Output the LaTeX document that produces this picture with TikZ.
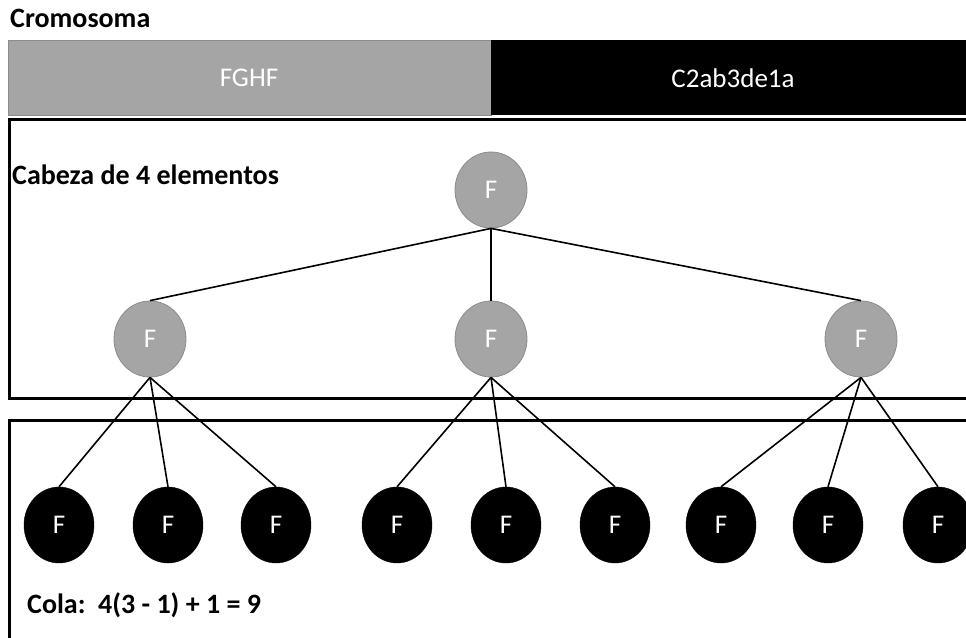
\documentclass[tikz,border=0pt]{standalone}
\usepackage{fontspec}
\setmainfont{Carlito}
\usetikzlibrary{shapes.geometric}
\definecolor{genegray}{HTML}{A5A5A5}
\definecolor{geneedge}{HTML}{8C8C8C}
\tikzset{
  headnode/.style={ellipse, fill=genegray, draw=geneedge, line width=0.8pt,
    minimum width=72pt, minimum height=76pt, inner sep=0pt,
    text=white, font=\fontsize{27}{30}\selectfont},
  tailnode/.style={ellipse, fill=black, draw=black,
    minimum width=70pt, minimum height=76pt, inner sep=0pt,
    text=white, font=\fontsize{27}{30}\selectfont},
  branch/.style={line width=1.6pt, black},
  panel/.style={line width=3pt, draw=black},
  heading/.style={anchor=west, inner sep=0pt, font=\bfseries\fontsize{28}{32}\selectfont},
  bartext/.style={text=white, font=\fontsize{27}{30}\selectfont}
}
\begin{document}
\begin{tikzpicture}[x=1pt, y=-1pt]
\useasboundingbox (0,0) rectangle (966,637);
\clip (0,0) rectangle (966,637);

% chromosome bar: head and tail sections
\draw[fill=genegray, draw=geneedge, line width=1pt] (8,40) rectangle (491,115);
\fill[black] (491,40) rectangle (980,115);
\node[bartext] (headtxt) at (249,78) {FGHF};
\node[bartext] (tailtxt) at (733,78) {C2ab3de1a};
\node[heading] (title) at (10,18) {Cromosoma};

% panels
\draw[panel] (9.5,119.5) rectangle (990,398);
\draw[panel] (9.5,420) rectangle (990,660);
\node[heading] (headlbl) at (12,175) {Cabeza de 4 elementos};
\node[heading] (taillbl) at (27,605) {Cola:\ \ 4(3 - 1) + 1 = 9};

% head tree
\node[headnode] (root) at (491,190) {F};
\node[headnode] (m1) at (150,339) {F};
\node[headnode] (m2) at (491,339) {F};
\node[headnode] (m3) at (861,339) {F};

% tail leaves
\node[tailnode] (c11) at (59,525) {F};
\node[tailnode] (c12) at (168,525) {F};
\node[tailnode] (c13) at (276,525) {F};
\node[tailnode] (c21) at (397,525) {F};
\node[tailnode] (c22) at (506,525) {F};
\node[tailnode] (c23) at (615,525) {F};
\node[tailnode] (c31) at (721,525) {F};
\node[tailnode] (c32) at (828,525) {F};
\node[tailnode] (c33) at (938,525) {F};

% connectors
\foreach \m in {m1,m2,m3} \draw[branch] (root.south) -- (\m.north);
\foreach \i in {1,2,3} {
  \foreach \j in {1,2,3} \draw[branch] (m\i.south) -- (c\i\j.north);
}
\end{tikzpicture}
\end{document}
